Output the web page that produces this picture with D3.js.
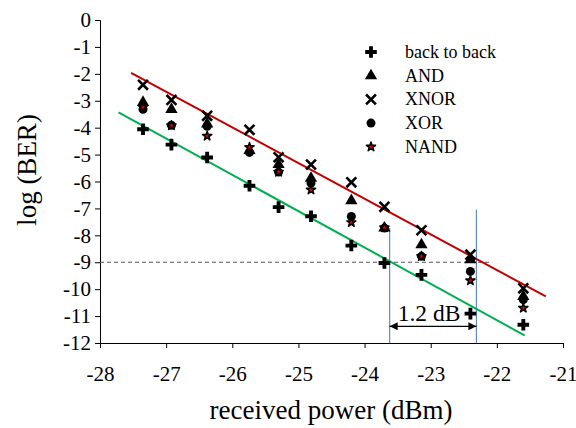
<!DOCTYPE html>
<html>
<head>
<meta charset="utf-8">
<script src="https://cdn.jsdelivr.net/npm/d3@7"></script>
<style>
  body { margin: 0; background: #fff; }
  svg { display: block; }
  svg text { font-family: "Liberation Serif", "Times New Roman", serif; fill: #000; }
</style>
</head>
<body>
<svg id="chart" width="576" height="428"></svg>
<script>
// received power (dBm) of each measurement
const power = [-27.35, -26.92, -26.38, -25.74, -25.30, -24.81, -24.20, -23.70, -23.14, -22.40, -21.60];

// log(BER) per series
const backToBack = [-4.06, -4.63, -5.11, -6.16, -6.95, -7.29, -8.38, -9.03, -9.47, -10.91, -11.32];
const andGate    = [-3.06, -3.32, -3.86, -4.85, -5.37, -5.88, -6.71, -7.73, -8.35, -8.91, -10.27];
const xnorGate   = [-2.41, -2.97, -3.56, -4.08, -5.10, -5.37, -6.03, -6.94, -7.81, -8.72, -9.97];
const xorGate    = [-3.32, -3.91, -3.95, -4.92, -5.65, -6.06, -7.30, -7.73, -8.78, -9.34, -10.39];
const nandGate   = [-3.24, -3.92, -4.31, -4.73, -5.65, -6.31, -7.52, -7.71, -8.78, -9.68, -10.70];

// fitted trend lines [x, y] endpoints
const redFit   = [[-27.53, -1.96], [-21.26, -10.27]];
const greenFit = [[-27.72, -3.43], [-21.58, -11.72]];

// 1.2 dB annotation
const thresholdBER = -9;
const penaltyX = [-23.62, -22.31];
const penaltyTop = [-7.73, -7.05];

const xTicks = d3.range(-28, -20, 1);
const yTicks = d3.range(0, -13, -1);

const series = [
  { name: "back to back", values: backToBack, type: "cross" },
  { name: "AND", values: andGate, type: "triangle" },
  { name: "XNOR", values: xnorGate, type: "x" },
  { name: "XOR", values: xorGate, type: "circle" },
  { name: "NAND", values: nandGate, type: "star" }
];

const svg = d3.select("#chart");
const margin = { left: 100, top: 20, right: 13, bottom: 85 };
const width = 576, height = 428;

const x = d3.scaleLinear().domain([-28, -21]).range([margin.left, width - margin.right]);
const y = d3.scaleLinear().domain([-12, 0]).range([height - margin.bottom, margin.top]);

// axes (plain hyphen for the minus sign, like the original)
const fmt = d => String(d);
const xAxis = svg.append("g")
  .attr("transform", `translate(0,${y(-12)})`)
  .call(d3.axisBottom(x).tickValues(xTicks).tickSize(5).tickPadding(18).tickFormat(fmt));
const yAxis = svg.append("g")
  .attr("transform", `translate(${x(-28)},0)`)
  .call(d3.axisLeft(y).tickValues(yTicks).tickSize(5).tickPadding(4).tickFormat(fmt));

[xAxis, yAxis].forEach(a => {
  a.attr("font-family", null).attr("font-size", null);
  a.select(".domain").attr("stroke", "#000").attr("stroke-width", 1);
  a.selectAll(".tick line").attr("stroke", "#000");
  a.selectAll("text").style("font-size", "21px");
});

svg.append("text")
  .attr("x", 331).attr("y", 419)
  .attr("text-anchor", "middle")
  .style("font-size", "27px")
  .text("received power (dBm)");

svg.append("text")
  .attr("transform", `translate(36,170) rotate(-90)`)
  .attr("text-anchor", "middle")
  .style("font-size", "27px")
  .text("log (BER)");

// threshold dashed line
svg.append("line")
  .attr("x1", x(-28)).attr("x2", x(-22.07))
  .attr("y1", y(thresholdBER)).attr("y2", y(thresholdBER))
  .attr("stroke", "#555").attr("stroke-width", 1)
  .attr("stroke-dasharray", "4,3");

// vertical markers for the penalty
penaltyX.forEach((px, i) => {
  svg.append("line")
    .attr("x1", x(px)).attr("x2", x(px))
    .attr("y1", y(penaltyTop[i])).attr("y2", y(-12))
    .attr("stroke", "#4472c4").attr("stroke-width", 1);
});

// trend lines
const line = d3.line().x(d => x(d[0])).y(d => y(d[1]));
svg.append("path").attr("d", line(redFit)).attr("stroke", "#c00000").attr("stroke-width", 2).attr("fill", "none");
svg.append("path").attr("d", line(greenFit)).attr("stroke", "#00b050").attr("stroke-width", 2).attr("fill", "none");

// double arrow
const defs = svg.append("defs");
defs.append("marker")
  .attr("id", "arr")
  .attr("viewBox", "0 0 10 10")
  .attr("refX", 10).attr("refY", 5)
  .attr("markerWidth", 9).attr("markerHeight", 8)
  .attr("markerUnits", "userSpaceOnUse")
  .attr("orient", "auto-start-reverse")
  .append("path").attr("d", "M0,0L10,5L0,10z").attr("fill", "#000");

const arrowY = y(-11.38);
svg.append("line")
  .attr("x1", x(penaltyX[0])).attr("x2", x(penaltyX[1]))
  .attr("y1", arrowY).attr("y2", arrowY)
  .attr("stroke", "#000").attr("stroke-width", 1.2)
  .attr("marker-start", "url(#arr)").attr("marker-end", "url(#arr)");

svg.append("text")
  .attr("x", (x(penaltyX[0]) + x(penaltyX[1])) / 2 - 4)
  .attr("y", arrowY - 5)
  .attr("text-anchor", "middle")
  .style("font-size", "23.5px")
  .text("1.2 dB");

// markers
function drawMarker(g, type) {
  if (type === "cross") {
    g.append("path").attr("d", d3.symbol(d3.symbolCross, 75)()).attr("fill", "#000");
  } else if (type === "triangle") {
    g.append("path").attr("d", d3.symbol(d3.symbolTriangle, 65)()).attr("fill", "#000");
  } else if (type === "x") {
    g.append("path").attr("d", d3.symbol(d3.symbolX, 65)())
      .attr("fill", "none").attr("stroke", "#000").attr("stroke-width", 2.6);
  } else if (type === "circle") {
    g.append("circle").attr("r", 4.5).attr("fill", "#000");
  } else if (type === "star") {
    g.append("path").attr("d", d3.symbol(d3.symbolStar, 26)())
      .attr("fill", "#e00000").attr("stroke", "#000").attr("stroke-width", 1.5)
      .attr("stroke-linejoin", "round");
  }
}

series.forEach(s => {
  const g = svg.append("g");
  s.values.forEach((v, i) => {
    const m = g.append("g").attr("transform", `translate(${x(power[i])},${y(v)})`);
    drawMarker(m, s.type);
  });
});

// legend
const legend = svg.append("g");
series.forEach((s, i) => {
  const ly = 52 + i * 23.7;
  const m = legend.append("g").attr("transform", `translate(371,${ly})`);
  drawMarker(m, s.type);
  legend.append("text")
    .attr("x", 405).attr("y", ly + 6)
    .style("font-size", "18px")
    .text(s.name);
});
</script>
</body>
</html>
